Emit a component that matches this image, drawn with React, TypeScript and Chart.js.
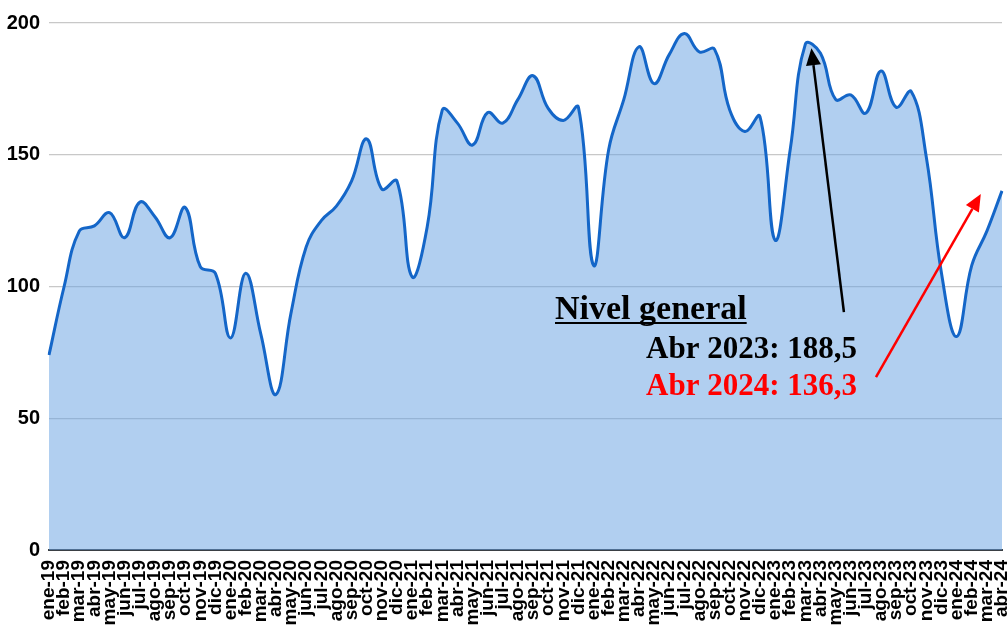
import React, { useEffect, useRef } from "react";
import { Chart, registerables } from "chart.js";

Chart.register(...registerables);

const months = ["ene", "feb", "mar", "abr", "may", "jun", "jul", "ago", "sep", "oct", "nov", "dic"];
const years = ["19", "20", "21", "22", "23", "24"];
const lastMonthCount = 4; // ene-24 .. abr-24

const categories: string[] = [];
years.forEach((y, yi) => {
  const n = yi === years.length - 1 ? lastMonthCount : 12;
  for (let m = 0; m < n; m++) categories.push(`${months[m]}-${y}`);
});

const nivelGeneral = [
  74, 100, 121, 123, 128, 118.5, 132, 126.5, 118.5, 130, 107.5, 105,
  80.5, 105, 82, 59, 90, 115, 125, 130.5, 140, 156, 137, 140,
  103.7, 122.6, 167, 162, 153.7, 166, 162, 171, 180, 167.6, 163, 168,
  108, 152, 171, 191, 177, 188, 196, 189, 190, 167, 158.8, 164.5,
  117.6, 152, 192, 188.5, 171, 172.7, 165.8, 181.8, 168, 174, 149, 105,
  81, 108, 121, 136.3,
];

const yTicks = [0, 50, 100, 150, 200];

const titleText = "Nivel general";
const line2023 = "Abr 2023: 188,5";
const line2024 = "Abr 2024: 136,3";

// arrow anchors in data space: [index, value]
const blackArrowFrom = [52.55, 90.3];
const blackArrowTo = [50.4, 190.4];
const redArrowFrom = [54.67, 65.6];
const redArrowTo = [61.6, 135.1];

function drawArrow(ctx: CanvasRenderingContext2D, x1: number, y1: number, x2: number, y2: number, color: string) {
  const ang = Math.atan2(y2 - y1, x2 - x1);
  const headLen = 17;
  const headW = 7.5;
  const bx = x2 - headLen * Math.cos(ang);
  const by = y2 - headLen * Math.sin(ang);
  ctx.save();
  ctx.strokeStyle = color;
  ctx.fillStyle = color;
  ctx.lineWidth = 2.5;
  ctx.beginPath();
  ctx.moveTo(x1, y1);
  ctx.lineTo(bx, by);
  ctx.stroke();
  ctx.beginPath();
  ctx.moveTo(x2, y2);
  ctx.lineTo(bx + headW * Math.sin(ang), by - headW * Math.cos(ang));
  ctx.lineTo(bx - headW * Math.sin(ang), by + headW * Math.cos(ang));
  ctx.closePath();
  ctx.fill();
  ctx.restore();
}

const annotationPlugin = {
  id: "annotations",
  afterDatasetsDraw(chart: any) {
    const ctx: CanvasRenderingContext2D = chart.ctx;
    const xs = chart.scales.x;
    const ys = chart.scales.y;
    const n = categories.length - 1;
    const px = (i: number) => xs.left + ((xs.right - xs.left) * i) / n;
    const py = (v: number) => ys.getPixelForValue(v);

    drawArrow(ctx, px(blackArrowFrom[0]), py(blackArrowFrom[1]), px(blackArrowTo[0]), py(blackArrowTo[1]), "#000000");
    drawArrow(ctx, px(redArrowFrom[0]), py(redArrowFrom[1]), px(redArrowTo[0]), py(redArrowTo[1]), "#FF0000");

    ctx.save();
    ctx.textBaseline = "alphabetic";
    ctx.textAlign = "left";
    ctx.font = "bold 34px 'Liberation Serif', 'DejaVu Serif', serif";
    ctx.fillStyle = "#000000";
    ctx.fillText(titleText, 555, 319);
    const w = ctx.measureText(titleText).width;
    ctx.fillRect(555, 322, w, 2);

    ctx.font = "bold 31px 'Liberation Serif', 'DejaVu Serif', serif";
    ctx.fillStyle = "#000000";
    ctx.fillText(line2023, 646, 358);
    ctx.fillStyle = "#FF0000";
    ctx.fillText(line2024, 646, 395);
    ctx.restore();
  },
};

export default function App() {
  const ref = useRef<HTMLCanvasElement | null>(null);

  useEffect(() => {
    if (!ref.current) return;
    const chart = new Chart(ref.current, {
      type: "line",
      data: {
        labels: categories,
        datasets: [
          {
            label: "Nivel general",
            data: nivelGeneral,
            borderColor: "#1466C8",
            backgroundColor: "rgba(100,160,225,0.5)",
            borderWidth: 3,
            fill: "origin",
            tension: 0.42,
            pointRadius: 0,
            pointHoverRadius: 0,
          },
        ],
      },
      options: {
        responsive: false,
        devicePixelRatio: 1,
        animation: false,
        layout: { padding: { top: 23, right: 5, left: 0, bottom: 0 } },
        plugins: {
          legend: { display: false },
          tooltip: { enabled: false },
        },
        scales: {
          x: {
            offset: false,
            grid: { display: false, drawTicks: false },
            border: { display: true, color: "#3a3f44", width: 2 },
            ticks: {
              autoSkip: false,
              maxRotation: 90,
              minRotation: 90,
              padding: 10,
              color: "#000000",
              font: { family: "'Liberation Sans', Arial, sans-serif", size: 19, weight: "bold" },
            },
            afterFit: (s: any) => {
              s.height = 78;
              s.paddingLeft = 0;
              s.paddingRight = 0;
            },
          },
          y: {
            min: 0,
            max: 200,
            afterBuildTicks: (s: any) => {
              s.ticks = yTicks.map((v) => ({ value: v }));
            },
            grid: { color: "#c8c8c8", lineWidth: 1.2, drawTicks: false },
            border: { display: false },
            ticks: {
              padding: 9,
              color: "#000000",
              font: { family: "'Liberation Sans', Arial, sans-serif", size: 20, weight: "bold" },
            },
            afterFit: (s: any) => {
              s.width = 49;
            },
          },
        },
      },
      plugins: [annotationPlugin],
    });
    return () => chart.destroy();
  }, []);

  return (
    <div style={{ position: "fixed", left: 0, top: 0, width: 1007, height: 628, background: "#ffffff" }}>
      <canvas ref={ref} width={1007} height={628} style={{ display: "block" }} />
    </div>
  );
}
